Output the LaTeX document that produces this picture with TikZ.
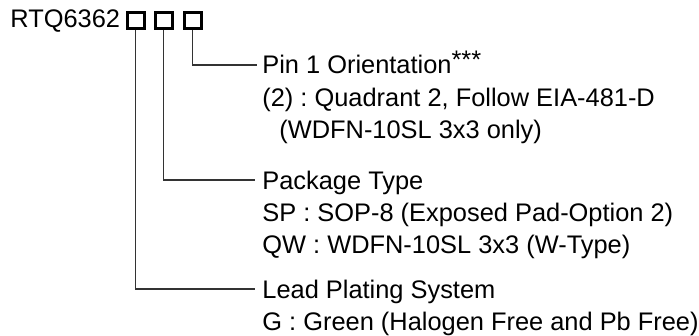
\documentclass[tikz,border=0pt]{standalone}
\usepackage{fontspec}
\setmainfont{Liberation Sans}
\frenchspacing

\tikzset{
  codebox/.style={draw, line width=1.5pt, minimum width=8.5pt, minimum height=8pt, inner sep=0pt},
  conn/.style={draw=black!80, line width=0.65pt},
  txt/.style={anchor=base west, inner sep=0pt, font=\fontsize{12.7pt}{16pt}\selectfont}
}

\begin{document}
\begin{tikzpicture}[x=0.5pt, y=-0.5pt]
\useasboundingbox (0,0) rectangle (699,336);

\node[txt] (part) at (10,28) {RTQ6362};
\node[codebox] (b1) at (135.5,21) {};
\node[codebox] (b2) at (163.5,21) {};
\node[codebox] (b3) at (192.5,21) {};

\node[txt] (pin) at (262,74) {Pin 1 Orientation\raisebox{2.5pt}{***}};
\node[txt] (pinA) at (262,107) {(2) : Quadrant 2, Follow EIA-481-D};
\node[txt] (pinB) at (279,139) {(WDFN-10SL 3x3 only)};

\node[txt] (pkg) at (262,189) {Package Type};
\node[txt] (pkgA) at (262,221) {SP : SOP-8 (Exposed Pad-Option 2)};
\node[txt] (pkgB) at (262,253) {QW : WDFN-10SL 3x3 (W-Type)};

\node[txt] (lead) at (262,298) {Lead Plating System};
\node[txt] (leadA) at (262,330) {G : Green (Halogen Free and Pb Free)};

\draw[conn] (b3.south) |- ([shift={(-2.5pt,4.5pt)}]pin.base west);
\draw[conn] (b2.south) |- ([shift={(-3.5pt,4.5pt)}]pkg.base west);
\draw[conn] (b1.south) |- ([shift={(-3.5pt,4.5pt)}]lead.base west);
\end{tikzpicture}
\end{document}
